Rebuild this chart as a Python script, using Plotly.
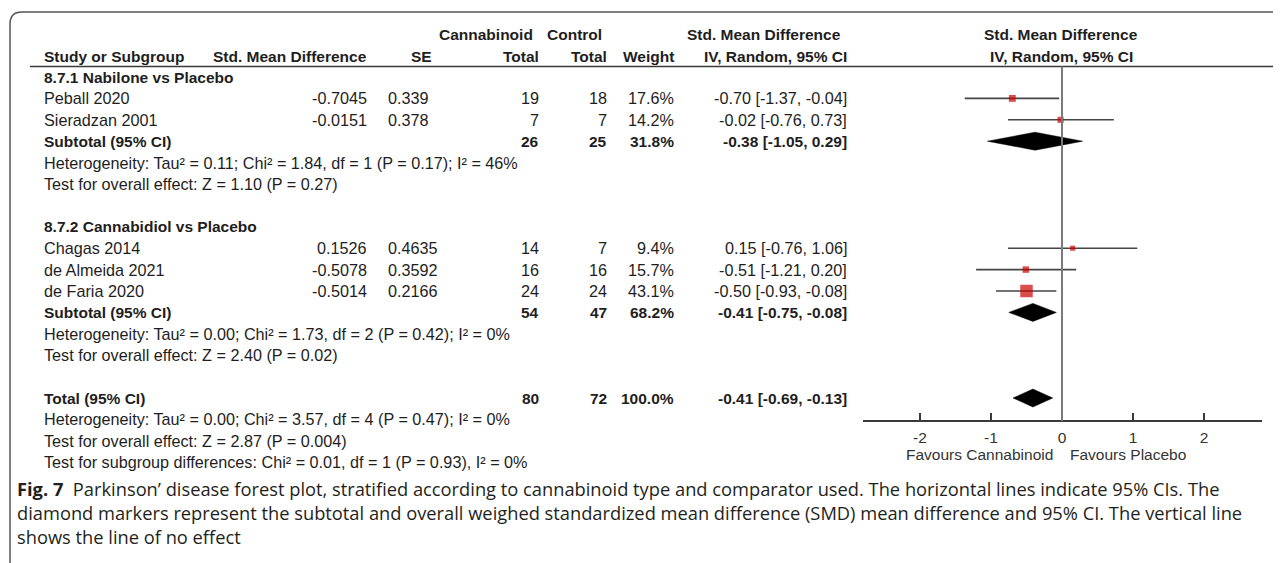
import plotly.graph_objects as go

# ------------------------------------------------------------------ data
group_titles = ["8.7.1 Nabilone vs Placebo", "8.7.2 Cannabidiol vs Placebo"]

g1_studies = ["Peball 2020", "Sieradzan 2001"]
g1_smd = ["-0.7045", "-0.0151"]
g1_se = ["0.339", "0.378"]
g1_n_cann = [19, 7]
g1_n_ctrl = [18, 7]
g1_weight = [17.6, 14.2]
g1_est = [-0.70, -0.02]
g1_lo = [-1.37, -0.76]
g1_hi = [-0.04, 0.73]

g2_studies = ["Chagas 2014", "de Almeida 2021", "de Faria 2020"]
g2_smd = ["0.1526", "-0.5078", "-0.5014"]
g2_se = ["0.4635", "0.3592", "0.2166"]
g2_n_cann = [14, 16, 24]
g2_n_ctrl = [7, 16, 24]
g2_weight = [9.4, 15.7, 43.1]
g2_est = [0.15, -0.51, -0.50]
g2_lo = [-0.76, -1.21, -0.93]
g2_hi = [1.06, 0.20, -0.08]

sub_n_cann = [26, 54]
sub_n_ctrl = [25, 47]
sub_weight = [31.8, 68.2]
sub_est = [-0.38, -0.41]
sub_lo = [-1.05, -0.75]
sub_hi = [0.29, -0.08]

sub_het = ["Heterogeneity: Tau² = 0.11; Chi² = 1.84, df = 1 (P = 0.17); I² = 46%",
           "Heterogeneity: Tau² = 0.00; Chi² = 1.73, df = 2 (P = 0.42); I² = 0%"]
sub_test = ["Test for overall effect: Z = 1.10 (P = 0.27)",
            "Test for overall effect: Z = 2.40 (P = 0.02)"]

total_n_cann = 80
total_n_ctrl = 72
total_weight = 100.0
total_est = -0.41
total_lo = -0.69
total_hi = -0.13
total_notes = ["Heterogeneity: Tau² = 0.00; Chi² = 3.57, df = 4 (P = 0.47); I² = 0%",
               "Test for overall effect: Z = 2.87 (P = 0.004)",
               "Test for subgroup differences: Chi² = 0.01, df = 1 (P = 0.93), I² = 0%"]

axis_ticks = [-2, -1, 0, 1, 2]
axis_labels = ["Favours Cannabinoid", "Favours Placebo"]

caption_lines = [
    "<b>Fig. 7</b>  Parkinson’ disease forest plot, stratified according to cannabinoid type and comparator used. The horizontal lines indicate 95% CIs. The",
    "diamond markers represent the subtotal and overall weighed standardized mean difference (SMD) mean difference and 95% CI. The vertical line",
    "shows the line of no effect",
]

# ------------------------------------------------------------------ layout helpers
# the page body has an 8px default margin, so the figure is placed at (8, 8)
OFF = 8
PAGE_W, PAGE_H = 1281, 563
W, H = PAGE_W - OFF, PAGE_H - OFF
ROW0_PX, PITCH = 77.0, 21.4          # page-pixel position of row 0 and row pitch
FONT = "Liberation Sans, Arial, sans-serif"
TXT = "#1e1e1e"
FS = 16.2
FSB = 15.5

def px(x):
    return (x - OFF) / W

def py(y):
    return 1 - (y - OFF) / H

def row_of_px(y):
    return (y - ROW0_PX) / PITCH

fig = go.Figure()
ann = []
shapes = []

def text(x, row, s, anchor="left", bold=False, size=None, color=TXT):
    ann.append(dict(x=px(x), xref="paper", y=row, yref="y", text=(f"<b>{s}</b>" if bold else s),
                    showarrow=False, xanchor=anchor, yanchor="middle", borderpad=0,
                    font=dict(family=FONT, size=size or (FSB if bold else FS), color=color)))

X_NAME, X_SMD, X_SE, X_NC, X_NT, X_W, X_CI = 43, 368, 387, 540, 608, 675, 848
X_FOREST_C = 1061

def ci_txt(e, l, h):
    return f"{e:.2f} [{l:.2f}, {h:.2f}]"

# ---- header
r_h1, r_h2 = row_of_px(34.5), row_of_px(56.5)
text(X_NAME, r_h2, "Study or Subgroup", bold=True)
text(X_SMD, r_h2, "Std. Mean Difference", "right", bold=True)
text(433, r_h2, "SE", "right", bold=True)
text(534, r_h1, "Cannabinoid", "right", bold=True)
text(603, r_h1, "Control", "right", bold=True)
text(X_NC, r_h2, "Total", "right", bold=True)
text(X_NT, r_h2, "Total", "right", bold=True)
text(X_W, r_h2, "Weight", "right", bold=True)
text(842, r_h1, "Std. Mean Difference", "right", bold=True)
text(X_CI, r_h2, "IV, Random, 95% CI", "right", bold=True)
text(X_FOREST_C, r_h1, "Std. Mean Difference", "center", bold=True)
text(X_FOREST_C, r_h2, "IV, Random, 95% CI", "center", bold=True)

r_line = row_of_px(66.5)
shapes.append(dict(type="line", xref="paper", yref="y", x0=px(30), x1=px(1275), y0=r_line, y1=r_line,
                   line=dict(color="#3a3a3a", width=1.5)))

# ---- body rows
groups = [
    (g1_studies, g1_smd, g1_se, g1_n_cann, g1_n_ctrl, g1_weight, g1_est, g1_lo, g1_hi),
    (g2_studies, g2_smd, g2_se, g2_n_cann, g2_n_ctrl, g2_weight, g2_est, g2_lo, g2_hi),
]

study_rows, study_est, study_lo, study_hi, study_w = [], [], [], [], []
diamond_rows, diamond_est, diamond_lo, diamond_hi = [], [], [], []

row = 0
for gi, (names, smd, se, nc, nt, w, est, lo, hi) in enumerate(groups):
    text(X_NAME, row, group_titles[gi], bold=True)
    row += 1
    for i in range(len(names)):
        text(X_NAME, row, names[i])
        text(X_SMD, row, smd[i], "right")
        text(X_SE, row, se[i], "left")
        text(X_NC, row, str(nc[i]), "right")
        text(X_NT, row, str(nt[i]), "right")
        text(X_W, row, f"{w[i]:.1f}%", "right")
        text(X_CI, row, ci_txt(est[i], lo[i], hi[i]), "right")
        study_rows.append(row); study_est.append(est[i]); study_lo.append(lo[i])
        study_hi.append(hi[i]); study_w.append(w[i])
        row += 1
    text(X_NAME, row, "Subtotal (95% CI)", bold=True)
    text(X_NC, row, str(sub_n_cann[gi]), "right", bold=True)
    text(X_NT, row, str(sub_n_ctrl[gi]), "right", bold=True)
    text(X_W, row, f"{sub_weight[gi]:.1f}%", "right", bold=True)
    text(X_CI, row, ci_txt(sub_est[gi], sub_lo[gi], sub_hi[gi]), "right", bold=True)
    diamond_rows.append(row); diamond_est.append(sub_est[gi])
    diamond_lo.append(sub_lo[gi]); diamond_hi.append(sub_hi[gi])
    row += 1
    text(X_NAME, row, sub_het[gi]); row += 1
    text(X_NAME, row, sub_test[gi]); row += 1
    row += 1  # blank line

text(X_NAME, row, "Total (95% CI)", bold=True)
text(X_NC, row, str(total_n_cann), "right", bold=True)
text(X_NT, row, str(total_n_ctrl), "right", bold=True)
text(X_W, row, f"{total_weight:.1f}%", "right", bold=True)
text(X_CI, row, ci_txt(total_est, total_lo, total_hi), "right", bold=True)
diamond_rows.append(row); diamond_est.append(total_est)
diamond_lo.append(total_lo); diamond_hi.append(total_hi)
row += 1
for note in total_notes:
    text(X_NAME, row, note)
    row += 1

# ---- forest plot
AXIS_PX = 421.0
r_axis = row_of_px(AXIS_PX)

# line of no effect
shapes.append(dict(type="line", xref="x", yref="y", x0=0, x1=0, y0=r_line, y1=r_axis,
                   line=dict(color="#7a7a7a", width=2)))

# CI whiskers
for r, lo, hi in zip(study_rows, study_lo, study_hi):
    fig.add_trace(go.Scatter(x=[lo, hi], y=[r, r], mode="lines",
                             line=dict(color="#454545", width=1.6), hoverinfo="skip", showlegend=False))

# weighted squares
sizes = [3 + 9.5 * w / max(study_w) for w in study_w]
fig.add_trace(go.Scatter(x=study_est, y=study_rows, mode="markers",
                         marker=dict(symbol="square", color="#cc0000", size=sizes, line=dict(width=0)),
                         showlegend=False, hoverinfo="skip"))

# diamonds
DH = 9.0 / PITCH
for r, e, lo, hi in zip(diamond_rows, diamond_est, diamond_lo, diamond_hi):
    fig.add_trace(go.Scatter(x=[lo, e, hi, e, lo], y=[r, r - DH, r, r + DH, r], mode="lines",
                             fill="toself", fillcolor="black", line=dict(color="black", width=0.5),
                             hoverinfo="skip", showlegend=False))

# favours labels
fav_row = row_of_px(454)
text(1054, fav_row, axis_labels[0], "right", size=15.5, color="#333")
text(1069, fav_row, axis_labels[1], "left", size=15.5, color="#333")

# ---- caption (one multi-line text block)
ann.append(dict(x=px(16), xref="paper", y=py(475), yref="paper", text="<br>".join(caption_lines),
                showarrow=False, xanchor="left", yanchor="top", align="left", borderpad=0,
                font=dict(family="Open Sans, Noto Sans, sans-serif", size=18.3, color="#231f20")))

# ---- frame (rounded top-left)
fx, fy, rad = 10, 12, 12
shapes.append(dict(type="path", xref="paper", yref="paper",
                   path=(f"M {px(fx)},{py(PAGE_H)} L {px(fx)},{py(fy + rad)} "
                         f"Q {px(fx)},{py(fy)} {px(fx + rad)},{py(fy)} L 1,{py(fy)}"),
                   line=dict(color="#555", width=1.5)))

# ---- axes
x_left_px, x_right_px, zero_px, unit_px = 863, 1262, 1062, 71.0
fig.update_layout(
    width=W, height=H, margin=dict(l=0, r=0, t=0, b=0),
    paper_bgcolor="white", plot_bgcolor="white",
    showlegend=False, annotations=ann, shapes=shapes,
    xaxis=dict(domain=[px(x_left_px), px(x_right_px)],
               range=[(x_left_px - zero_px) / unit_px, (x_right_px - zero_px) / unit_px],
               anchor="free", position=py(AXIS_PX),
               showline=True, linecolor="#3a3a3a", linewidth=2,
               ticks="inside", ticklen=7, tickwidth=1.5, tickcolor="#3a3a3a",
               tickvals=axis_ticks, ticktext=[str(t) for t in axis_ticks],
               tickfont=dict(family=FONT, size=15.5, color="#333"),
               ticklabelstandoff=2,
               showgrid=False, zeroline=False, fixedrange=True),
    yaxis=dict(domain=[0, 1], range=[row_of_px(PAGE_H), row_of_px(OFF)], visible=False,
               showgrid=False, zeroline=False, fixedrange=True),
)

fig.write_html("out.html")
